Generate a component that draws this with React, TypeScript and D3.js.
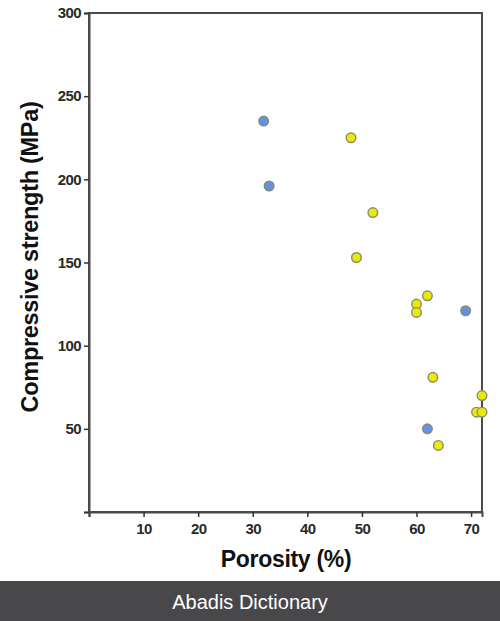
import { useEffect, useRef } from "react";
import * as d3 from "d3";

const X_TICKS = [0, 10, 20, 30, 40, 50, 60, 70];
const Y_TICKS = [0, 50, 100, 150, 200, 250, 300];

// blue series
const blueX = [32, 33, 69, 62];
const blueY = [235, 196, 121, 50];

// yellow series
const yellowX = [48, 52, 49, 60, 60, 62, 63, 72, 71, 72, 64];
const yellowY = [225, 180, 153, 125, 120, 130, 81, 70, 60, 60, 40];

const WIDTH = 500;
const HEIGHT = 621;
const FONT = "Liberation Sans, Arial, sans-serif";

export default function App() {
  const svgRef = useRef<SVGSVGElement | null>(null);

  useEffect(() => {
    if (!svgRef.current) return;
    const svg = d3.select(svgRef.current);
    svg.selectAll("*").remove();

    const left = 89;
    const right = 482;
    const top = 13;
    const bottom = 512;

    const x = d3.scaleLinear().domain([0, 72]).range([left, right]);
    const y = d3.scaleLinear().domain([0, 300]).range([bottom, top]);

    svg.append("rect").attr("width", WIDTH).attr("height", HEIGHT).attr("fill", "#fff");

    // frame
    svg
      .append("rect")
      .attr("x", left)
      .attr("y", top)
      .attr("width", right - left)
      .attr("height", bottom - top)
      .attr("fill", "none")
      .attr("stroke", "#4a4a4a")
      .attr("stroke-width", 2);

    const xAxis = svg
      .append("g")
      .attr("transform", `translate(0,${bottom})`)
      .call(
        d3
          .axisBottom(x)
          .tickValues(X_TICKS)
          .tickSize(5)
          .tickFormat((d) => (Number(d) === 0 ? "" : String(d)))
      );

    const yAxis = svg
      .append("g")
      .attr("transform", `translate(${left},0)`)
      .call(
        d3
          .axisLeft(y)
          .tickValues(Y_TICKS)
          .tickSize(5)
          .tickFormat((d) => (Number(d) === 0 ? "" : String(d)))
      );

    [xAxis, yAxis].forEach((g) => {
      g.select(".domain").attr("stroke", "#4a4a4a").attr("stroke-width", 2);
      g.selectAll(".tick line").attr("stroke", "#333").attr("stroke-width", 1.5);
      g.selectAll(".tick text")
        .attr("fill", "#2a2a2a")
        .style("font-family", FONT)
        .style("font-size", "15px")
        .style("font-weight", "bold")
        .style("letter-spacing", "-0.6px");
    });
    xAxis.selectAll(".tick text").attr("y", 8).attr("dy", "0.95em");
    yAxis.selectAll(".tick text").attr("x", -8);

    const drawSeries = (xs: number[], ys: number[], fill: string) => {
      svg
        .append("g")
        .selectAll("circle")
        .data(xs)
        .join("circle")
        .attr("cx", (d) => x(d))
        .attr("cy", (_d, i) => y(ys[i]))
        .attr("r", 4.8)
        .attr("fill", fill)
        .attr("stroke", "#8a8a70")
        .attr("stroke-width", 1.4);
    };
    drawSeries(blueX, blueY, "#6292e4");
    drawSeries(yellowX, yellowY, "#eaea0a");

    svg
      .append("text")
      .attr("x", 286)
      .attr("y", 567)
      .attr("text-anchor", "middle")
      .style("font-family", FONT)
      .style("font-size", "23px")
      .style("font-weight", "bold")
      .style("letter-spacing", "-0.3px")
      .attr("fill", "#111")
      .text("Porosity (%)");

    svg
      .append("text")
      .attr("transform", `translate(38,257) rotate(-90)`)
      .attr("text-anchor", "middle")
      .style("font-family", FONT)
      .style("font-size", "23.5px")
      .style("font-weight", "bold")
      .style("letter-spacing", "-0.3px")
      .attr("fill", "#111")
      .text("Compressive strength (MPa)");

    // footer band
    svg
      .append("rect")
      .attr("x", 0)
      .attr("y", 581)
      .attr("width", WIDTH)
      .attr("height", HEIGHT - 581)
      .attr("fill", "#48484a");
    svg
      .append("text")
      .attr("x", WIDTH / 2)
      .attr("y", 609)
      .attr("text-anchor", "middle")
      .style("font-family", FONT)
      .style("font-size", "20px")
      .attr("fill", "#fff")
      .text("Abadis Dictionary");
  }, []);

  return (
    <svg
      ref={svgRef}
      width={WIDTH}
      height={HEIGHT}
      style={{ position: "absolute", left: 0, top: 0 }}
    />
  );
}
